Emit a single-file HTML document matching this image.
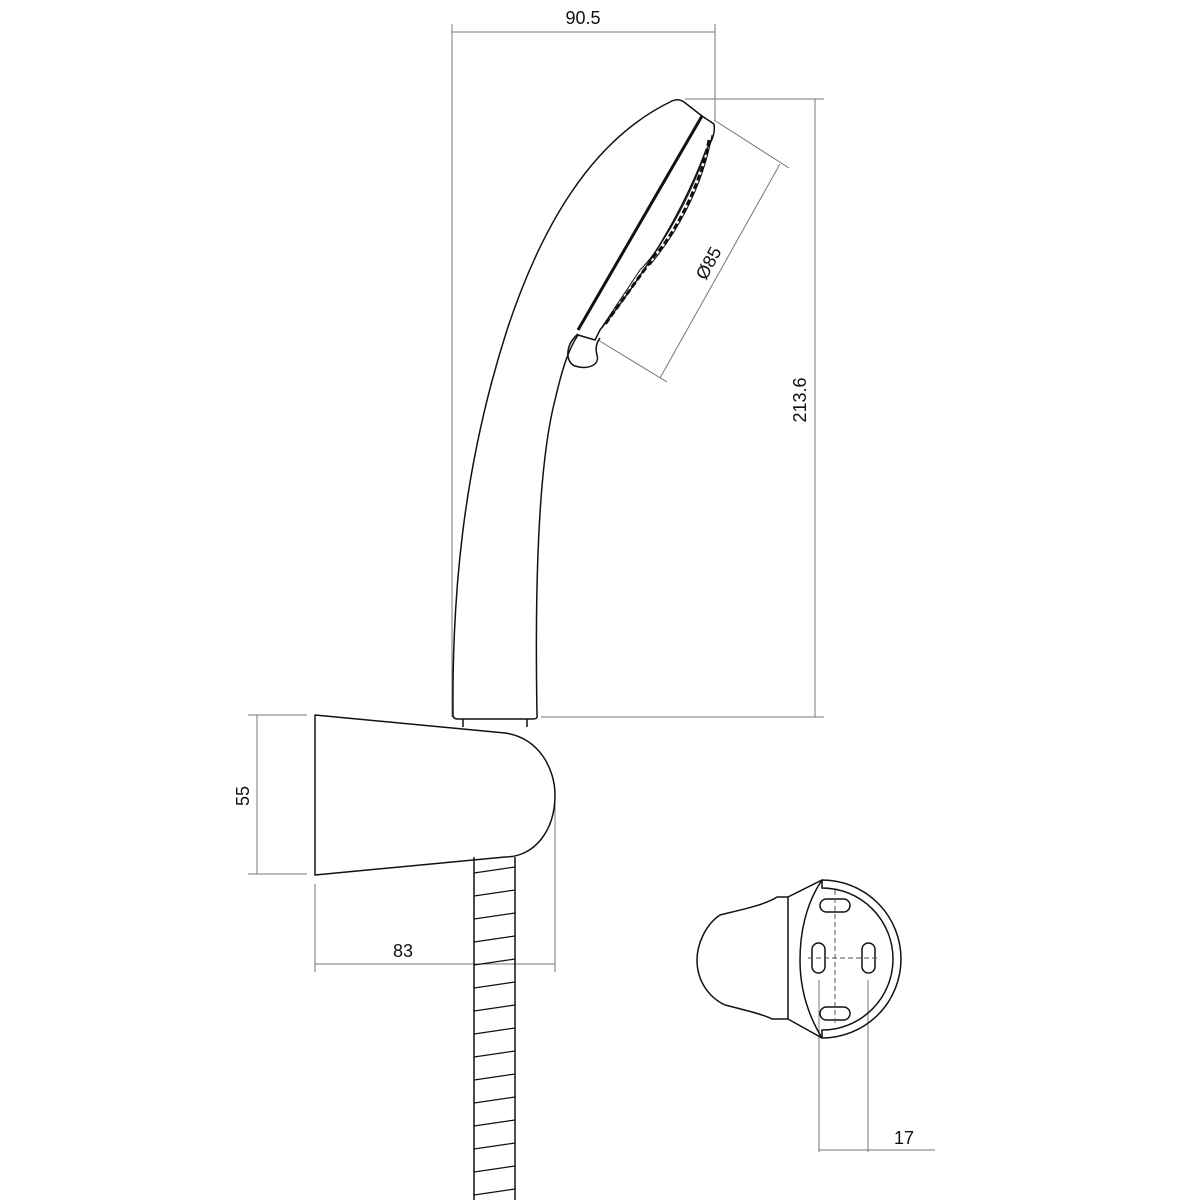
<!DOCTYPE html>
<html><head><style>html,body{margin:0;padding:0;background:#fff}svg{display:block}text{font-family:"Liberation Sans",sans-serif;fill:#111}</style></head>
<body>
<svg width="1200" height="1200" viewBox="0 0 1200 1200" xmlns="http://www.w3.org/2000/svg">
<g stroke="#777" stroke-width="1" fill="none">
<line x1="452" y1="24" x2="452" y2="717"/>
<line x1="715" y1="24" x2="715" y2="120"/>
<line x1="452" y1="32" x2="715" y2="32"/>
<line x1="685" y1="99" x2="824" y2="99"/>
<line x1="541" y1="717" x2="824" y2="717"/>
<line x1="815" y1="99" x2="815" y2="717"/>
<line x1="714" y1="120" x2="789" y2="168"/>
<line x1="598" y1="340" x2="667" y2="382"/>
<line x1="780" y1="164" x2="660" y2="378"/>
<line x1="248" y1="715" x2="307" y2="715"/>
<line x1="248" y1="874" x2="307" y2="874"/>
<line x1="257" y1="715" x2="257" y2="874"/>
<line x1="315" y1="884" x2="315" y2="972"/>
<line x1="555" y1="795" x2="555" y2="972"/>
<line x1="315" y1="964" x2="555" y2="964"/>
<line x1="819" y1="980" x2="819" y2="1152"/>
<line x1="868" y1="980" x2="868" y2="1152"/>
<line x1="819" y1="1150" x2="935" y2="1150"/>
</g>
<text x="583" y="24" font-size="18" text-anchor="middle">90.5</text>
<text transform="translate(806,400) rotate(-90)" font-size="18" text-anchor="middle">213.6</text>
<text transform="translate(714,266) rotate(-62)" font-size="18" text-anchor="middle">Ø85</text>
<text transform="translate(249,796) rotate(-90)" font-size="18" text-anchor="middle">55</text>
<text x="403" y="957" font-size="18" text-anchor="middle">83</text>
<text x="904" y="1144" font-size="18" text-anchor="middle">17</text>

<g stroke="#111" stroke-width="1.5" fill="none" stroke-linejoin="round">
<path d="M453,715 C452,600 462,470 507,330 C540,230 590,140 672,101 Q678,98 684,102 L702,116"/>
<path d="M537,715 C535,600 537,470 555,400 C562,370 568,350 578,335"/>
<path d="M453,715 Q453,719 458,719 L533,719 Q538,719 537,715"/>
<path d="M463,719 L463,727 M527,719 L527,727"/>
<path d="M702,116 L714,124 Q716,136 706,150 C680,220 640,280 600,330 L595,340 L578,335" />
<path d="M702,116 L578,330" stroke-width="3"/>
<path d="M578,334 C565,345 565,362 575,366 C588,370 600,365 597,355 C595,348 597,342 600,338"/>
<path d="M706,150 C690,200 660,250 640,270 C620,300 610,315 600,330" stroke-width="1"/>
<path d="M709,140 C700,190 670,240 655,255 C630,290 615,310 604,326" stroke-width="3" stroke-dasharray="6,3"/>
<path d="M712,135 C702,190 675,235 650,265" stroke-width="1"/>
<path d="M315,715 L505,733 C540,738 555,770 555,795 C555,830 535,857 505,857 L315,875 Z"/>
<line x1="474" y1="857" x2="474" y2="1200"/>
<line x1="515" y1="857" x2="515" y2="1200"/>
</g>
<g stroke="#111" stroke-width="1.3">
<line x1="474" y1="873" x2="515" y2="867"/><line x1="474" y1="896" x2="515" y2="890"/><line x1="474" y1="919" x2="515" y2="913"/><line x1="474" y1="942" x2="515" y2="936"/><line x1="474" y1="965" x2="515" y2="959"/><line x1="474" y1="988" x2="515" y2="982"/><line x1="474" y1="1011" x2="515" y2="1005"/><line x1="474" y1="1034" x2="515" y2="1028"/><line x1="474" y1="1057" x2="515" y2="1051"/><line x1="474" y1="1080" x2="515" y2="1074"/><line x1="474" y1="1103" x2="515" y2="1097"/><line x1="474" y1="1126" x2="515" y2="1120"/><line x1="474" y1="1149" x2="515" y2="1143"/><line x1="474" y1="1172" x2="515" y2="1166"/><line x1="474" y1="1195" x2="515" y2="1189"/>
</g>
<g stroke="#111" stroke-width="1.5" fill="none">
<path d="M788,897 L777,897 C765,905 740,910 720,915 C705,925 697,945 697,960 C697,980 708,997 725,1005 C745,1010 765,1015 772,1019 L788,1019 Z"/>
<path d="M788,897 L822,880 A79,79 0 0 1 822,1038 L788,1019"/>
<path d="M822,880 C805,905 800,935 800,960 C800,990 808,1015 822,1038"/>
<path d="M822,880 L822,888 A70,70 0 0 1 822,1030 L822,1038"/>
<rect x="820" y="899" width="30" height="13" rx="6.5"/>
<rect x="820" y="1007" width="30" height="13" rx="6.5"/>
<rect x="812" y="943" width="13" height="30" rx="6.5"/>
<rect x="862" y="943" width="13" height="30" rx="6.5"/>
</g>
<g stroke="#555" stroke-width="1" stroke-dasharray="5,3">
<line x1="835" y1="890" x2="835" y2="1025"/>
<line x1="808" y1="958" x2="880" y2="958"/>
</g>
</svg>
</body></html>
